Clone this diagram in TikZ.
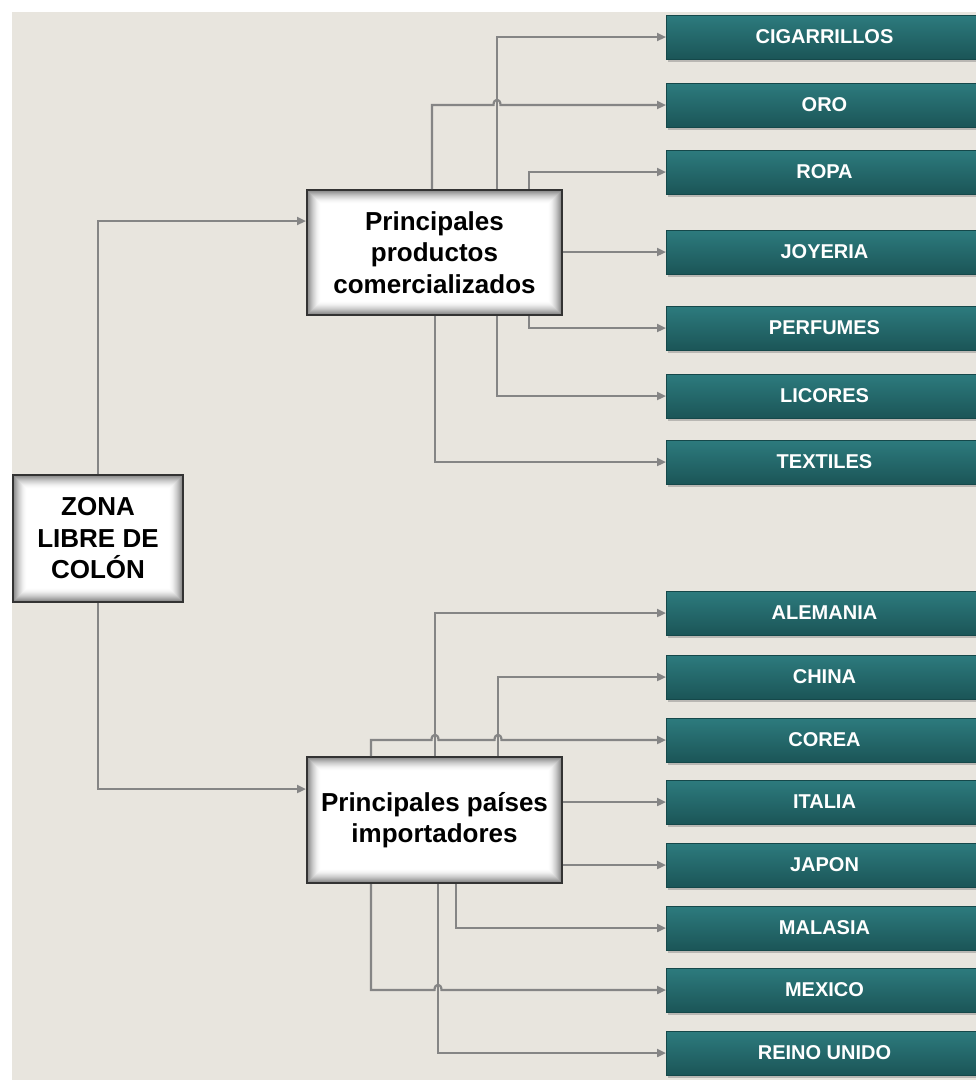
\documentclass[tikz,border=0pt]{standalone}
\usepackage{fontspec}
\setmainfont{Liberation Sans}
\usetikzlibrary{arrows.meta,calc,shadows}
\definecolor{bgc}{HTML}{E8E5DE}
\definecolor{tealtop}{HTML}{2D7B7E}
\definecolor{tealbot}{HTML}{1B5557}
\definecolor{tealedge}{HTML}{15484A}
\definecolor{linec}{HTML}{858585}
\tikzset{
  x=1pt, y=-1pt,
  itembox/.style={rectangle, minimum width=316pt, minimum height=44pt, anchor=west,
    top color=tealtop, bottom color=tealbot, draw=tealedge, line width=1pt,
    text=white, font=\bfseries\fontsize{20}{24}\selectfont,
    drop shadow={shadow xshift=1pt, shadow yshift=-3pt, opacity=0.45}},
  mainbox/.style={rectangle, fill=white, draw=black!80, line width=2pt, align=center,
    font=\bfseries\fontsize{26}{31.5}\selectfont, inner sep=0pt,
    path picture={\foreach \i in {1,...,14} {\pgfmathsetmacro\op{0.26*((15-\i)/14)^2}
      \draw[black, opacity=\op, line width=1.05pt]
      ([shift={(\i*1pt,-\i*1pt)}]path picture bounding box.north west) rectangle
      ([shift={(-\i*1pt,\i*1pt)}]path picture bounding box.south east);}}},
  conn/.style={draw=linec, line width=2.2pt, -{Triangle[length=9pt,width=8pt]}},
}
\begin{document}
\begin{tikzpicture}
\useasboundingbox (0,0) rectangle (976,1080);
\fill[bgc] (12,12) rectangle (976,1080);

% main boxes
\node[mainbox, minimum width=170pt, minimum height=127pt] (z) at (98,538.5) {ZONA\\LIBRE DE\\COLÓN};
\node[mainbox, minimum width=255pt, minimum height=125pt] (p1) at (434.5,252.5) {Principales\\productos\\comercializados};
\node[mainbox, minimum width=255pt, minimum height=126pt] (p2) at (434.5,820) {Principales países\\importadores};

% item boxes
\node[itembox] (cig) at (666,37) {CIGARRILLOS};
\node[itembox] (oro) at (666,105) {ORO};
\node[itembox] (ropa) at (666,172) {ROPA};
\node[itembox] (joy) at (666,252) {JOYERIA};
\node[itembox] (perf) at (666,328) {PERFUMES};
\node[itembox] (lic) at (666,396) {LICORES};
\node[itembox] (tex) at (666,462) {TEXTILES};
\node[itembox] (ale) at (666,613) {ALEMANIA};
\node[itembox] (chi) at (666,677) {CHINA};
\node[itembox] (cor) at (666,740) {COREA};
\node[itembox] (ita) at (666,802) {ITALIA};
\node[itembox] (jap) at (666,865) {JAPON};
\node[itembox] (mal) at (666,928) {MALASIA};
\node[itembox] (mex) at (666,990) {MEXICO};
\node[itembox] (rei) at (666,1053) {REINO UNIDO};

% x positions of vertical runs
\coordinate (T1) at (432,0);
\coordinate (T2) at (497,0);
\coordinate (T3) at (529,0);
\coordinate (T4) at (435,0);
\coordinate (B1) at (371,0);
\coordinate (B2) at (435,0);
\coordinate (B3) at (498,0);
\coordinate (B4) at (456,0);
\coordinate (B5) at (438,0);
\coordinate (in1) at ($(p1.north west)+(0,32)$);
\coordinate (in2) at ($(p2.north west)+(0,33)$);

% zona connectors
\draw[conn] (z.north) |- (in1);
\draw[conn] (z.south) |- (in2);

% products
\draw[conn] (p1.north -| T2) |- (cig.west);
\draw[conn] (p1.north -| T1) |- ($(oro.west -| T2)+(-3.5,0)$)
  .. controls +(0,-7) and +(0,-7) .. ($(oro.west -| T2)+(3.5,0)$) -- (oro.west);
\draw[conn] (p1.north -| T3) |- (ropa.west);
\draw[conn] (p1.east |- joy.west) -- (joy.west);
\draw[conn] (p1.south -| T3) |- (perf.west);
\draw[conn] (p1.south -| T2) |- (lic.west);
\draw[conn] (p1.south -| T4) |- (tex.west);

% countries
\draw[conn] (p2.north -| B2) |- (ale.west);
\draw[conn] (p2.north -| B3) |- (chi.west);
\draw[conn] (p2.north -| B1) |- ($(cor.west -| B2)+(-3.5,0)$)
  .. controls +(0,-7) and +(0,-7) .. ($(cor.west -| B2)+(3.5,0)$)
  -- ($(cor.west -| B3)+(-3.5,0)$)
  .. controls +(0,-7) and +(0,-7) .. ($(cor.west -| B3)+(3.5,0)$) -- (cor.west);
\draw[conn] (p2.east |- ita.west) -- (ita.west);
\draw[conn] (p2.east |- jap.west) -- (jap.west);
\draw[conn] (p2.south -| B4) |- (mal.west);
\draw[conn] (p2.south -| B1) |- ($(mex.west -| B5)+(-3.5,0)$)
  .. controls +(0,-7) and +(0,-7) .. ($(mex.west -| B5)+(3.5,0)$) -- (mex.west);
\draw[conn] (p2.south -| B5) |- (rei.west);
\end{tikzpicture}
\end{document}
